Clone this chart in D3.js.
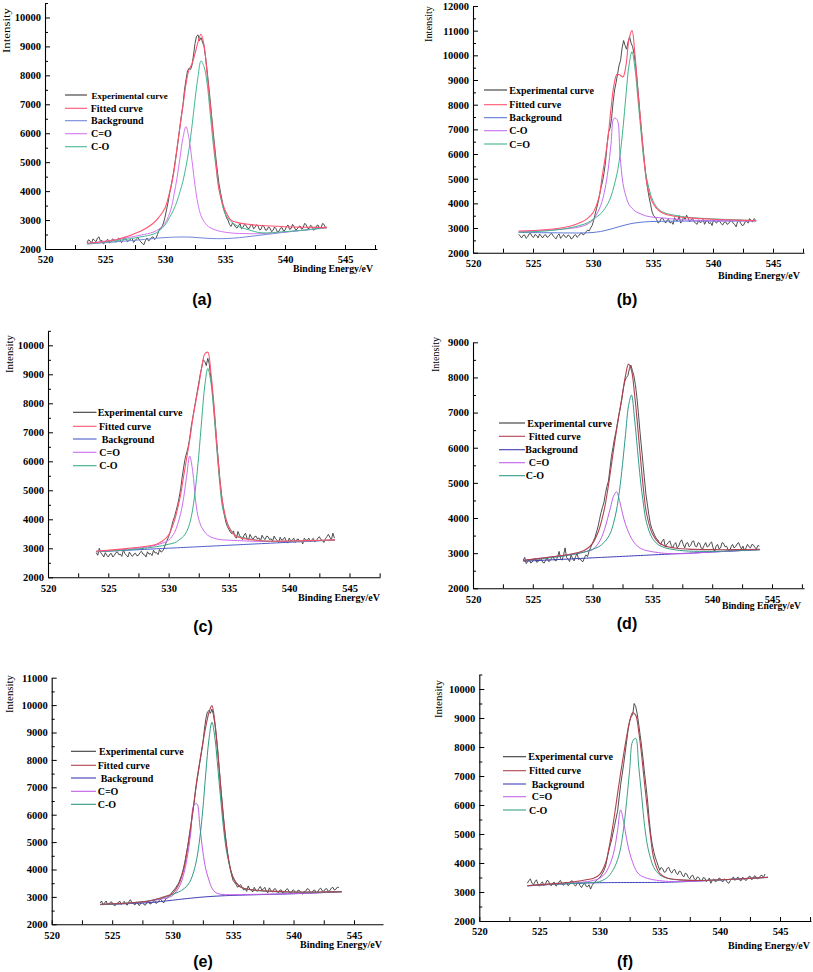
<!DOCTYPE html>
<html><head><meta charset="utf-8">
<script src="https://cdn.jsdelivr.net/npm/d3@7"></script>
<style>
html,body{margin:0;padding:0;background:#fff;}
svg{display:block;}
</style></head><body>
<svg id="chart" width="813" height="972"></svg>
<script>
// ---------------- DATA ----------------
const xTickLabels = [520, 525, 530, 535, 540, 545];
const yTicksA = [2000,3000,4000,5000,6000,7000,8000,9000,10000];
const yTicksB = [2000,3000,4000,5000,6000,7000,8000,9000,10000,11000,12000];
const yTicksC = [2000,3000,4000,5000,6000,7000,8000,9000,10000];
const yTicksD = [2000,3000,4000,5000,6000,7000,8000,9000];
const yTicksE = [2000,3000,4000,5000,6000,7000,8000,9000,10000,11000];
const yTicksF = [2000,3000,4000,5000,6000,7000,8000,9000,10000];

const legendA = ["Experimental curve","Fitted curve","Background","C=O","C-O"];
const legendB = ["Experimental curve","Fitted curve","Background","C-O","C=O"];
const legendC = ["Experimental curve","Fitted curve","Background","C=O","C-O"];
const legendD = ["Experimental curve","Fitted curve","Background","C=O","C-O"];
const legendE = ["Experimental curve","Fitted curve","Background","C=O","C-O"];
const legendF = ["Experimental curve","Fitted curve","Background","C=O","C-O"];
const panelLabels = ["(a)","(b)","(c)","(d)","(e)","(f)"];

// binding energy grids (eV) for the fitted components
const gridA = [523.5,526,528,529,529.5,530,530.5,530.75,531,531.25,531.5,531.75,532,532.25,532.5,532.75,533,533.25,533.5,533.75,534,534.25,534.5,535,535.5,536,537,538,540,542,543.5];
const gridB = [523.8,526,528,529,529.5,530,530.5,530.75,531,531.25,531.5,531.75,532,532.25,532.5,532.75,533,533.25,533.5,533.75,534,534.25,534.5,535,535.5,536,537,538,540,542,543.6];
const gridC = [524,526,528,529,529.5,530,530.5,530.75,531,531.25,531.5,531.75,532,532.25,532.5,532.75,533,533.25,533.5,533.75,534,534.25,534.5,535,535.5,536,537,538,540,542,543.8];
const gridD = [524.2,526,528,529,529.5,530,530.5,530.75,531,531.25,531.5,531.75,532,532.25,532.5,532.75,533,533.25,533.5,533.75,534,534.25,534.5,535,535.5,536,537,538,540,542,544];
const gridE = [524,526,528,529,529.5,530,530.5,530.75,531,531.25,531.5,531.75,532,532.25,532.5,532.75,533,533.25,533.5,533.75,534,534.25,534.5,535,535.5,536,537,538,540,542,544];
const gridF = [524,526,528,529,529.5,530,530.5,530.75,531,531.25,531.5,531.75,532,532.25,532.5,532.75,533,533.25,533.5,533.75,534,534.25,534.5,535,535.5,536,537,538,540,542,544];

// (a)
const fitA = [2200,2330,2620,2880,3100,3420,4156,4700,5480,6230,6950,7700,8200,8400,8750,9150,9420,9050,8100,7040,6000,4950,4050,3350,3000,2920,2850,2810,2770,2750,2740];
const bgA  = [2170,2250,2320,2360,2380,2395,2405,2410,2412,2414,2415,2415,2412,2408,2400,2392,2385,2378,2370,2365,2360,2358,2357,2360,2370,2385,2430,2480,2580,2670,2740];
const c1A  = [2190,2330,2480,2580,2690,2890,3380,3880,4450,5150,5850,6230,5820,5050,4200,3550,3150,2950,2820,2740,2690,2650,2620,2580,2555,2540,2530,2530,2590,2670,2740];
const c2A  = [2180,2290,2420,2510,2620,2830,3180,3380,3650,3980,4350,4850,5450,6250,7150,7950,8500,8300,7750,6750,5700,4820,4100,3233,2950,2800,2660,2560,2600,2670,2740];
const expStartA = 523.5;
const expA = [2210,2320,2280,2190,2350,2300,2250,2380,2420,2260,
  2300,2180,2230,2300,2330,2200,2260,2350,2310,2240,
  2270,2380,2340,2220,2290,2400,2360,2250,2300,2330,
  2380,2230,2280,2350,2400,2300,2250,2180,2150,2300,
  2380,2280,2320,2400,2420,2330,2370,2500,2650,2700,
  2780,2900,3100,3350,3600,3900,4150,4450,4750,5100,
  5450,5850,6250,6650,7000,7500,7850,8150,8250,8200,
  8350,8700,9100,9350,9400,9200,9300,9150,9000,8650,
  8200,7700,7200,6650,6100,5600,5100,4650,4250,3950,
  3700,3400,3250,3080,3000,2850,2780,2900,2850,2760,
  2720,2800,2880,2700,2750,2850,2820,2720,2700,2800,
  2860,2700,2740,2840,2800,2660,2680,2820,2780,2650,
  2660,2760,2720,2600,2640,2760,2700,2580,2620,2720,
  2740,2620,2650,2780,2830,2680,2700,2850,2780,2660,
  2680,2760,2800,2690,2720,2880,2850,2720,2700,2820,
  2780,2650,2680,2800,2830,2700,2720,2880,2850,2740,
  2760];

// (b)
const fitB = [2880,2930,3060,3230,3370,3620,4250,5050,5800,6650,7850,8800,9230,9200,9130,9600,10650,11000,10000,8500,7178,5850,4780,4000,3700,3570,3460,3410,3354,3320,3300];
const bgB  = [2820,2810,2800,2800,2805,2820,2850,2870,2900,2930,2960,2995,3030,3065,3100,3130,3160,3185,3205,3220,3235,3245,3255,3265,3270,3275,3278,3280,3283,3285,3290];
const c1B  = [2850,2900,2980,3060,3150,3330,3750,4069,4580,5330,6400,7450,7400,5950,4800,4280,3950,3800,3690,3620,3570,3520,3480,3440,3420,3400,3350,3320,3300,3295,3290];
const c2B  = [2830,2880,3000,3120,3200,3350,3520,3640,3800,4000,4280,4700,5200,5950,7050,8400,9600,10150,9450,8200,6900,5700,4950,4100,3750,3610,3500,3430,3370,3330,3300];
const expStartB = 523.8;
const expB = [2750,2680,2600,2700,2720,2580,2640,2760,2780,2660,
  2620,2740,2700,2600,2760,2680,2600,2700,2730,2620,
  2650,2740,2790,2680,2620,2560,2700,2760,2580,2660,
  2740,2640,2620,2720,2680,2560,2590,2700,2730,2620,
  2680,2760,2800,2720,2760,2850,2920,2880,3000,3100,
  3300,3550,3800,4050,4350,4650,4900,5250,5700,6400,
  6900,7050,7450,8100,8600,8900,9250,9600,9800,10300,
  10600,10400,10250,10550,10750,10500,10350,10050,9600,9000,
  8300,7550,6850,6200,5600,5050,4600,4250,3950,3650,
  3500,3450,3350,3200,3250,3380,3400,3300,3200,3320,
  3350,3200,3250,3150,3420,3300,3300,3500,3200,3280,
  3450,3350,3520,3400,3250,3350,3380,3250,3200,3150,
  3330,3220,3250,3350,3150,3280,3300,3180,3220,3100,
  3350,3250,3200,3300,3280,3180,3120,3230,3250,3150,
  3180,3280,3300,3200,3150,3050,3260,3330,3200,3100,
  3120,3250,3280,3200,3380,3300,3250,3380,3320];

// (c)
const fitC = [2900,2970,3060,3140,3250,3460,3977,4380,4850,5500,6110,6735,7450,8050,8620,9250,9700,9760,9080,8000,6600,5356,4520,3720,3440,3360,3290,3250,3250,3270,3290];
const bgC  = [2880,2921,2962,2983,2993,3003,3013,3018,3024,3029,3034,3039,3044,3049,3054,3059,3065,3070,3075,3080,3085,3090,3095,3106,3116,3126,3147,3167,3208,3249,3286];
const c1C  = [2900,2950,3030,3115,3180,3280,3550,3830,4200,4750,5500,6180,5650,4600,4000,3720,3560,3450,3390,3350,3320,3300,3290,3280,3270,3260,3245,3235,3240,3260,3286];
const c2C  = [2890,2930,3000,3057,3090,3140,3190,3250,3330,3420,3580,3862,4350,5150,6200,7450,8600,9200,8750,7700,6400,5200,4350,3750,3470,3390,3300,3250,3240,3260,3286];
const expStartC = 524;
const expC = [2850,2760,3000,2850,2780,2700,2850,2760,2700,2800,
  2820,2700,2760,2850,2880,2780,2800,2720,2950,2820,
  2760,2700,2870,2780,2720,2800,2830,2740,2760,2850,
  2900,2800,2780,2700,2880,2800,2820,2750,2930,2840,
  2850,2780,2960,2870,2900,3000,3150,3280,3400,3550,
  3750,3950,4100,4300,4500,4750,5050,5450,5800,6100,
  6300,6500,6800,7200,7500,7800,8100,8400,8700,9000,
  9250,9500,9450,9300,9550,9350,8900,8450,7900,7250,
  6600,6000,5400,4900,4500,4150,3900,3750,3650,3560,
  3500,3600,3400,3350,3580,3450,3380,3300,3450,3520,
  3350,3280,3480,3380,3300,3400,3420,3320,3360,3250,
  3450,3350,3300,3420,3400,3300,3330,3250,3420,3320,
  3280,3200,3380,3280,3300,3380,3250,3180,3350,3250,
  3280,3350,3200,3300,3320,3220,3250,3150,3350,3280,
  3280,3350,3220,3300,3340,3220,3260,3350,3400,3300,
  3280,3200,3330,3400,3480,3380,3300,3520,3350];

// (d)
const fitD = [2790,2870,2960,3040,3120,3280,3630,3920,4280,4770,5340,5940,6500,7020,7530,8050,8380,8200,7550,6680,5720,4820,4150,3550,3310,3210,3140,3115,3100,3100,3110];
const bgD  = [2770,2800,2833,2850,2858,2867,2875,2879,2883,2887,2892,2896,2900,2904,2908,2912,2917,2921,2925,2929,2933,2937,2942,2950,2958,2967,2983,3000,3033,3067,3100];
const c1D  = [2800,2870,2955,3010,3050,3100,3290,3450,3680,3980,4300,4620,4745,4500,4130,3820,3600,3420,3290,3200,3140,3100,3075,3040,3015,2995,2985,2990,3033,3067,3100];
const c2D  = [2790,2850,2940,3005,3050,3110,3180,3240,3320,3430,3580,3850,4228,4780,5520,6370,7180,7500,6850,5960,5082,4400,3880,3420,3240,3160,3090,3060,3050,3070,3100];
const expStartD = 524.2;
const expD = [2800,2880,2700,2760,2820,2720,2750,2820,2850,2740,
  2760,2850,2830,2740,2720,2800,2870,2760,2790,2850,
  2900,2800,2780,2900,3050,2850,2800,2950,3150,2880,
  2830,2760,2950,2850,2780,2900,3000,2820,2850,2780,
  2760,2880,2950,2900,3050,3150,3250,3350,3450,3600,
  3750,3950,4150,4300,4450,4700,4900,5050,5400,5750,
  6000,6250,6450,6700,6950,7150,7400,7700,7900,8000,
  8050,8250,8350,8200,8050,7800,7450,7000,6500,6050,
  5600,5150,4700,4400,4100,3850,3700,3600,3500,3420,
  3380,3300,3250,3350,3400,3180,3250,3300,3350,3220,
  3150,3250,3300,3150,3200,3320,3380,3250,3150,3280,
  3300,3180,3220,3330,3350,3200,3180,3300,3280,3150,
  3120,3220,3300,3180,3200,3280,3320,3150,3050,3200,
  3250,3120,3150,3300,3280,3180,3200,3100,3050,3180,
  3250,3150,3180,3260,3300,3200,3120,3200,3060,3150,
  3250,3180,3150,3250,3230,3160,3120,3220,3200];

// (e)
const fitE = [2730,2770,2850,2960,3030,3130,3450,3750,4170,4833,5600,6380,7250,7950,8620,9230,9720,9980,9350,8240,6900,5680,4720,3700,3390,3300,3240,3210,3180,3180,3190];
const bgE  = [2720,2750,2790,2830,2855,2880,2905,2918,2930,2942,2953,2964,2975,2985,2995,3003,3011,3018,3025,3031,3037,3042,3047,3055,3062,3068,3080,3092,3115,3150,3190];
const c1E  = [2720,2760,2840,2920,2960,3050,3330,3580,3980,4560,5330,6340,6400,5600,4650,4000,3620,3320,3180,3120,3095,3085,3080,3078,3080,3085,3093,3100,3120,3150,3190];
const c2E  = [2720,2760,2850,2950,3010,3090,3180,3240,3320,3434,3620,3930,4400,5150,6200,7550,8726,9380,8800,7650,6450,5350,4570,3730,3410,3300,3230,3200,3170,3170,3190];
const expStartE = 524;
const expE = [2780,2850,2700,2780,2850,2720,2750,2820,2800,2700,
  2680,2760,2780,2850,2720,2780,2840,2740,2700,2820,
  2900,2800,2760,2700,2820,2750,2680,2780,2800,2720,
  2700,2800,2850,2740,2760,2830,2880,2760,2800,2860,
  2920,2850,2780,2880,2950,2980,3050,3120,3200,3260,
  3330,3420,3500,3650,3800,4000,4250,4550,4850,5200,
  5550,5950,6350,6800,7200,7550,7900,8250,8600,9100,
  9500,9750,9800,9700,9850,9650,9300,8800,8200,7550,
  6900,6300,5700,5200,4750,4350,4050,3800,3600,3520,
  3450,3350,3400,3450,3350,3250,3300,3200,3400,3280,
  3250,3180,3350,3250,3200,3300,3380,3250,3280,3350,
  3200,3150,3330,3230,3180,3280,3300,3200,3150,3250,
  3250,3130,3180,3260,3300,3200,3120,3220,3260,3180,
  3150,3250,3230,3150,3100,3200,3200,3300,3280,3180,
  3150,3230,3250,3150,3180,3280,3320,3220,3200,3290,
  3300,3200,3230,3320,3350,3250,3280,3360,3340];

// (f)
const fitF = [3217,3280,3360,3430,3475,3600,4000,4450,5020,5680,6400,7100,7750,8356,8880,9180,9100,8550,7700,6700,5750,4870,4170,3640,3500,3450,3410,3395,3420,3460,3505];
const bgF  = [3210,3260,3295,3310,3315,3320,3322,3323,3324,3325,3325,3326,3326,3327,3327,3327,3328,3328,3328,3329,3329,3329,3330,3330,3335,3340,3355,3375,3415,3460,3505];
const c1F  = [3220,3270,3320,3360,3400,3470,3660,3850,4103,4500,5130,5830,5420,4820,4350,4020,3770,3620,3550,3500,3465,3440,3420,3390,3370,3360,3365,3380,3415,3460,3505];
const c2F  = [3220,3265,3300,3320,3330,3357,3460,3540,3680,3860,4120,4520,5200,6130,7200,8200,8300,7350,6300,5260,4560,4150,3850,3590,3490,3440,3410,3400,3415,3460,3505];
const expStartF = 524;
const expF = [3300,3400,3450,3300,3250,3350,3420,3280,3200,3300,
  3350,3220,3280,3400,3380,3250,3220,3320,3330,3200,
  3250,3350,3400,3280,3230,3330,3320,3220,3260,3380,
  3380,3260,3200,3300,3350,3220,3150,3250,3300,3200,
  3180,3250,3100,3220,3300,3350,3400,3450,3500,3560,
  3650,3750,3900,4150,4400,4600,4800,5050,5300,5550,
  5800,6250,6700,7050,7400,7800,8200,8600,8900,9050,
  9100,9500,9400,9150,8800,8400,8000,7550,7050,6600,
  6100,5500,5000,4650,4400,4200,4050,3900,3750,3850,
  3800,3680,3700,3820,3850,3720,3650,3750,3780,3650,
  3600,3720,3700,3580,3520,3650,3620,3500,3450,3550,
  3580,3450,3420,3520,3500,3400,3380,3500,3480,3360,
  3400,3480,3300,3400,3450,3350,3380,3460,3480,3380,
  3350,3450,3420,3330,3300,3400,3450,3520,3400,3460,
  3520,3420,3380,3500,3480,3400,3420,3520,3550,3430,
  3450,3560,3530,3450,3470,3560,3580,3500,3620];

const expStepEv = 0.125;

// ---------------- LAYOUT / STYLE ----------------
const layouts = [
  {x0:45,  x545:345,   xEnd:377, yBot:249,   yTop:3,     yMax:10500,
   legLine:[65,87],  legText:[91.5,90.7,91,91,91], legY:[95,108.3,120.7,133.7,146.7], legFirstSize:9,
   ylab:[10,30.5,45], xlab:[293,271.5,80], plab:[202,305]},
  {x0:473, x545:773,   xEnd:804, yBot:252.7, yTop:6,     yMax:12000,
   legLine:[484,507],legText:[509.3,509.3,509.3,509.3,509.3], legY:[90,104.7,117.7,130.7,144], legFirstSize:10,
   ylab:[432,24,36], xlab:[718,279,82], plab:[627,304.5]},
  {x0:48,  x545:349.5, xEnd:380, yBot:577.3, yTop:330.8, yMax:10500,
   legLine:[73,96.5],legText:[97.7,99,101.7,99.3,99.3], legY:[412.3,426.3,439,452.3,465.7], legFirstSize:10,
   ylab:[13,354,38], xlab:[298,600.5,82], plab:[203,632]},
  {x0:473, x545:772,   xEnd:804, yBot:588.3, yTop:342.3, yMax:9000,
   legLine:[499,525],legText:[527.3,528.7,525.3,528.7,525.7], legY:[423,436.3,449.7,462.7,475.7], legFirstSize:10,
   ylab:[439,354.5,35], xlab:[722,608.5,79], plab:[627,629]},
  {x0:51.7,x545:354,   xEnd:383, yBot:924.3, yTop:677.7, yMax:11000,
   legLine:[71,96],  legText:[99,97.7,100.7,97.7,97.7], legY:[751.3,765.3,778,791.3,804.3], legFirstSize:10,
   ylab:[13,694,38], xlab:[300,947.5,82], plab:[203,966.7]},
  {x0:479.3,x545:780,  xEnd:811, yBot:921,   yTop:674.5, yMax:10500,
   legLine:[503,526],legText:[528.3,529,531.7,531.7,529], legY:[756.7,770.7,784,796.7,810], legFirstSize:10,
   ylab:[442,699,38], xlab:[728,948.5,82], plab:[625,967]}
];

const expColor  = "#3a3a3a";
const bgColors  = ["#7488d8","#5d78d8","#4d5cc8","#3b3bb5","#3d3db2","#4040c0"];
const fitColors = ["#ff5470","#ff5470","#ff5470","#b0404e","#b0424e","#b0404e"];
const c1Colors  = ["#d576f2","#c46ef0","#cc6cf0","#c060e8","#c05ce8","#c462ec"];
const c2Colors  = ["#45b994","#3fb58a","#3aae88","#2f9a8e","#2e9a82","#3aa286"];
const serif = "'Liberation Serif','Times New Roman',serif";
const sans  = "'Liberation Sans',Arial,sans-serif";

const panels = [
  {grid:gridA, fit:fitA, bg:bgA, c1:c1A, c2:c2A, exp:expA, expStart:expStartA, yTicks:yTicksA, legend:legendA},
  {grid:gridB, fit:fitB, bg:bgB, c1:c1B, c2:c2B, exp:expB, expStart:expStartB, yTicks:yTicksB, legend:legendB},
  {grid:gridC, fit:fitC, bg:bgC, c1:c1C, c2:c2C, exp:expC, expStart:expStartC, yTicks:yTicksC, legend:legendC},
  {grid:gridD, fit:fitD, bg:bgD, c1:c1D, c2:c2D, exp:expD, expStart:expStartD, yTicks:yTicksD, legend:legendD},
  {grid:gridE, fit:fitE, bg:bgE, c1:c1E, c2:c2E, exp:expE, expStart:expStartE, yTicks:yTicksE, legend:legendE},
  {grid:gridF, fit:fitF, bg:bgF, c1:c1F, c2:c2F, exp:expF, expStart:expStartF, yTicks:yTicksF, legend:legendF}
];

// ---------------- DRAW ----------------
const svg = d3.select("#chart");

panels.forEach((P, k) => {
  const L = layouts[k];
  const g = svg.append("g");
  const xMaxEv = 520 + 25 * (L.xEnd - L.x0) / (L.x545 - L.x0);
  const x = d3.scaleLinear().domain([520, xMaxEv]).range([L.x0, L.xEnd]);
  const y = d3.scaleLinear().domain([2000, L.yMax]).range([L.yBot, L.yTop]);

  // x axis: inward ticks every 2.5 eV, labels every 5
  const xTickVals = d3.range(520, xMaxEv + 0.001, 2.5);
  const xa = g.append("g").attr("transform", `translate(0,${L.yBot})`)
    .call(d3.axisBottom(x).tickValues(xTickVals).tickSize(-4).tickSizeOuter(0).tickPadding(7)
      .tickFormat(d => xTickLabels.includes(d) ? String(d) : ""));
  xa.select(".domain").attr("stroke", "#000").attr("stroke-width", 1.1);
  xa.selectAll(".tick line").attr("stroke", "#000");
  xa.selectAll("text").style("font-family", serif).style("font-weight", "bold")
    .style("font-size", "10.5px").attr("fill", "#000");

  // y axis: major ticks with labels, minor ticks between
  const ya = g.append("g").attr("transform", `translate(${L.x0},0)`)
    .call(d3.axisLeft(y).tickValues(P.yTicks).tickSize(-5).tickSizeOuter(0).tickPadding(4)
      .tickFormat(d3.format("d")));
  ya.select(".domain").attr("stroke", "#000").attr("stroke-width", 1.1);
  ya.selectAll(".tick line").attr("stroke", "#000");
  ya.selectAll("text").style("font-family", serif).style("font-weight", "bold")
    .style("font-size", "10.5px").attr("fill", "#000");
  const minorY = P.yTicks.map(v => v + 500).filter(v => v <= L.yMax);
  const ym = g.append("g").attr("transform", `translate(${L.x0},0)`)
    .call(d3.axisLeft(y).tickValues(minorY).tickSize(-3).tickSizeOuter(0).tickFormat(""));
  ym.select(".domain").remove();
  ym.selectAll(".tick line").attr("stroke", "#000");

  // curves
  const smooth = d3.line().x(d => x(d[0])).y(d => y(d[1])).curve(d3.curveCatmullRom.alpha(0.5));
  const straight = d3.line().x(d => x(d[0])).y(d => y(d[1]));
  const pts = arr => P.grid.map((e, i) => [e, arr[i]]);
  const expPts = P.exp.map((v, i) => [P.expStart + i * expStepEv, v]);

  g.append("path").attr("d", straight(expPts)).attr("fill", "none")
    .attr("stroke", expColor).attr("stroke-width", 0.9).attr("stroke-linejoin", "round");
  g.append("path").attr("d", smooth(pts(P.bg))).attr("fill", "none")
    .attr("stroke", bgColors[k]).attr("stroke-width", 1);
  g.append("path").attr("d", smooth(pts(P.c1))).attr("fill", "none")
    .attr("stroke", c1Colors[k]).attr("stroke-width", 1);
  g.append("path").attr("d", smooth(pts(P.c2))).attr("fill", "none")
    .attr("stroke", c2Colors[k]).attr("stroke-width", 1);
  g.append("path").attr("d", smooth(pts(P.fit))).attr("fill", "none")
    .attr("stroke", fitColors[k]).attr("stroke-width", 1.1);

  // legend
  const legCols = [expColor, fitColors[k], bgColors[k], c1Colors[k], c2Colors[k]];
  P.legend.forEach((lab, i) => {
    g.append("line").attr("x1", L.legLine[0]).attr("x2", L.legLine[1])
      .attr("y1", L.legY[i]).attr("y2", L.legY[i])
      .attr("stroke", legCols[i]).attr("stroke-width", 1.1);
    g.append("text").attr("x", L.legText[i]).attr("y", L.legY[i] + 3.5)
      .style("font-family", serif).style("font-weight", "bold")
      .style("font-size", (i === 0 ? L.legFirstSize : 10) + "px").attr("fill", "#000").text(lab);
  });

  // axis titles
  g.append("text").attr("transform", `translate(${L.ylab[0]},${L.ylab[1]}) rotate(-90)`)
    .attr("text-anchor", "middle").style("font-family", serif)
    .style("font-size", "11px").attr("fill", "#000")
    .attr("textLength", L.ylab[2]).attr("lengthAdjust", "spacingAndGlyphs").text("Intensity");
  g.append("text").attr("x", L.xlab[0]).attr("y", L.xlab[1])
    .style("font-family", serif).style("font-weight", "bold")
    .style("font-size", "10.5px").attr("fill", "#000")
    .attr("textLength", L.xlab[2]).attr("lengthAdjust", "spacingAndGlyphs").text("Binding Energy/eV");

  // panel label
  g.append("text").attr("x", L.plab[0]).attr("y", L.plab[1]).attr("text-anchor", "middle")
    .style("font-family", sans).style("font-weight", "bold")
    .style("font-size", "16px").attr("fill", "#000").text(panelLabels[k]);
});
</script>
</body></html>
